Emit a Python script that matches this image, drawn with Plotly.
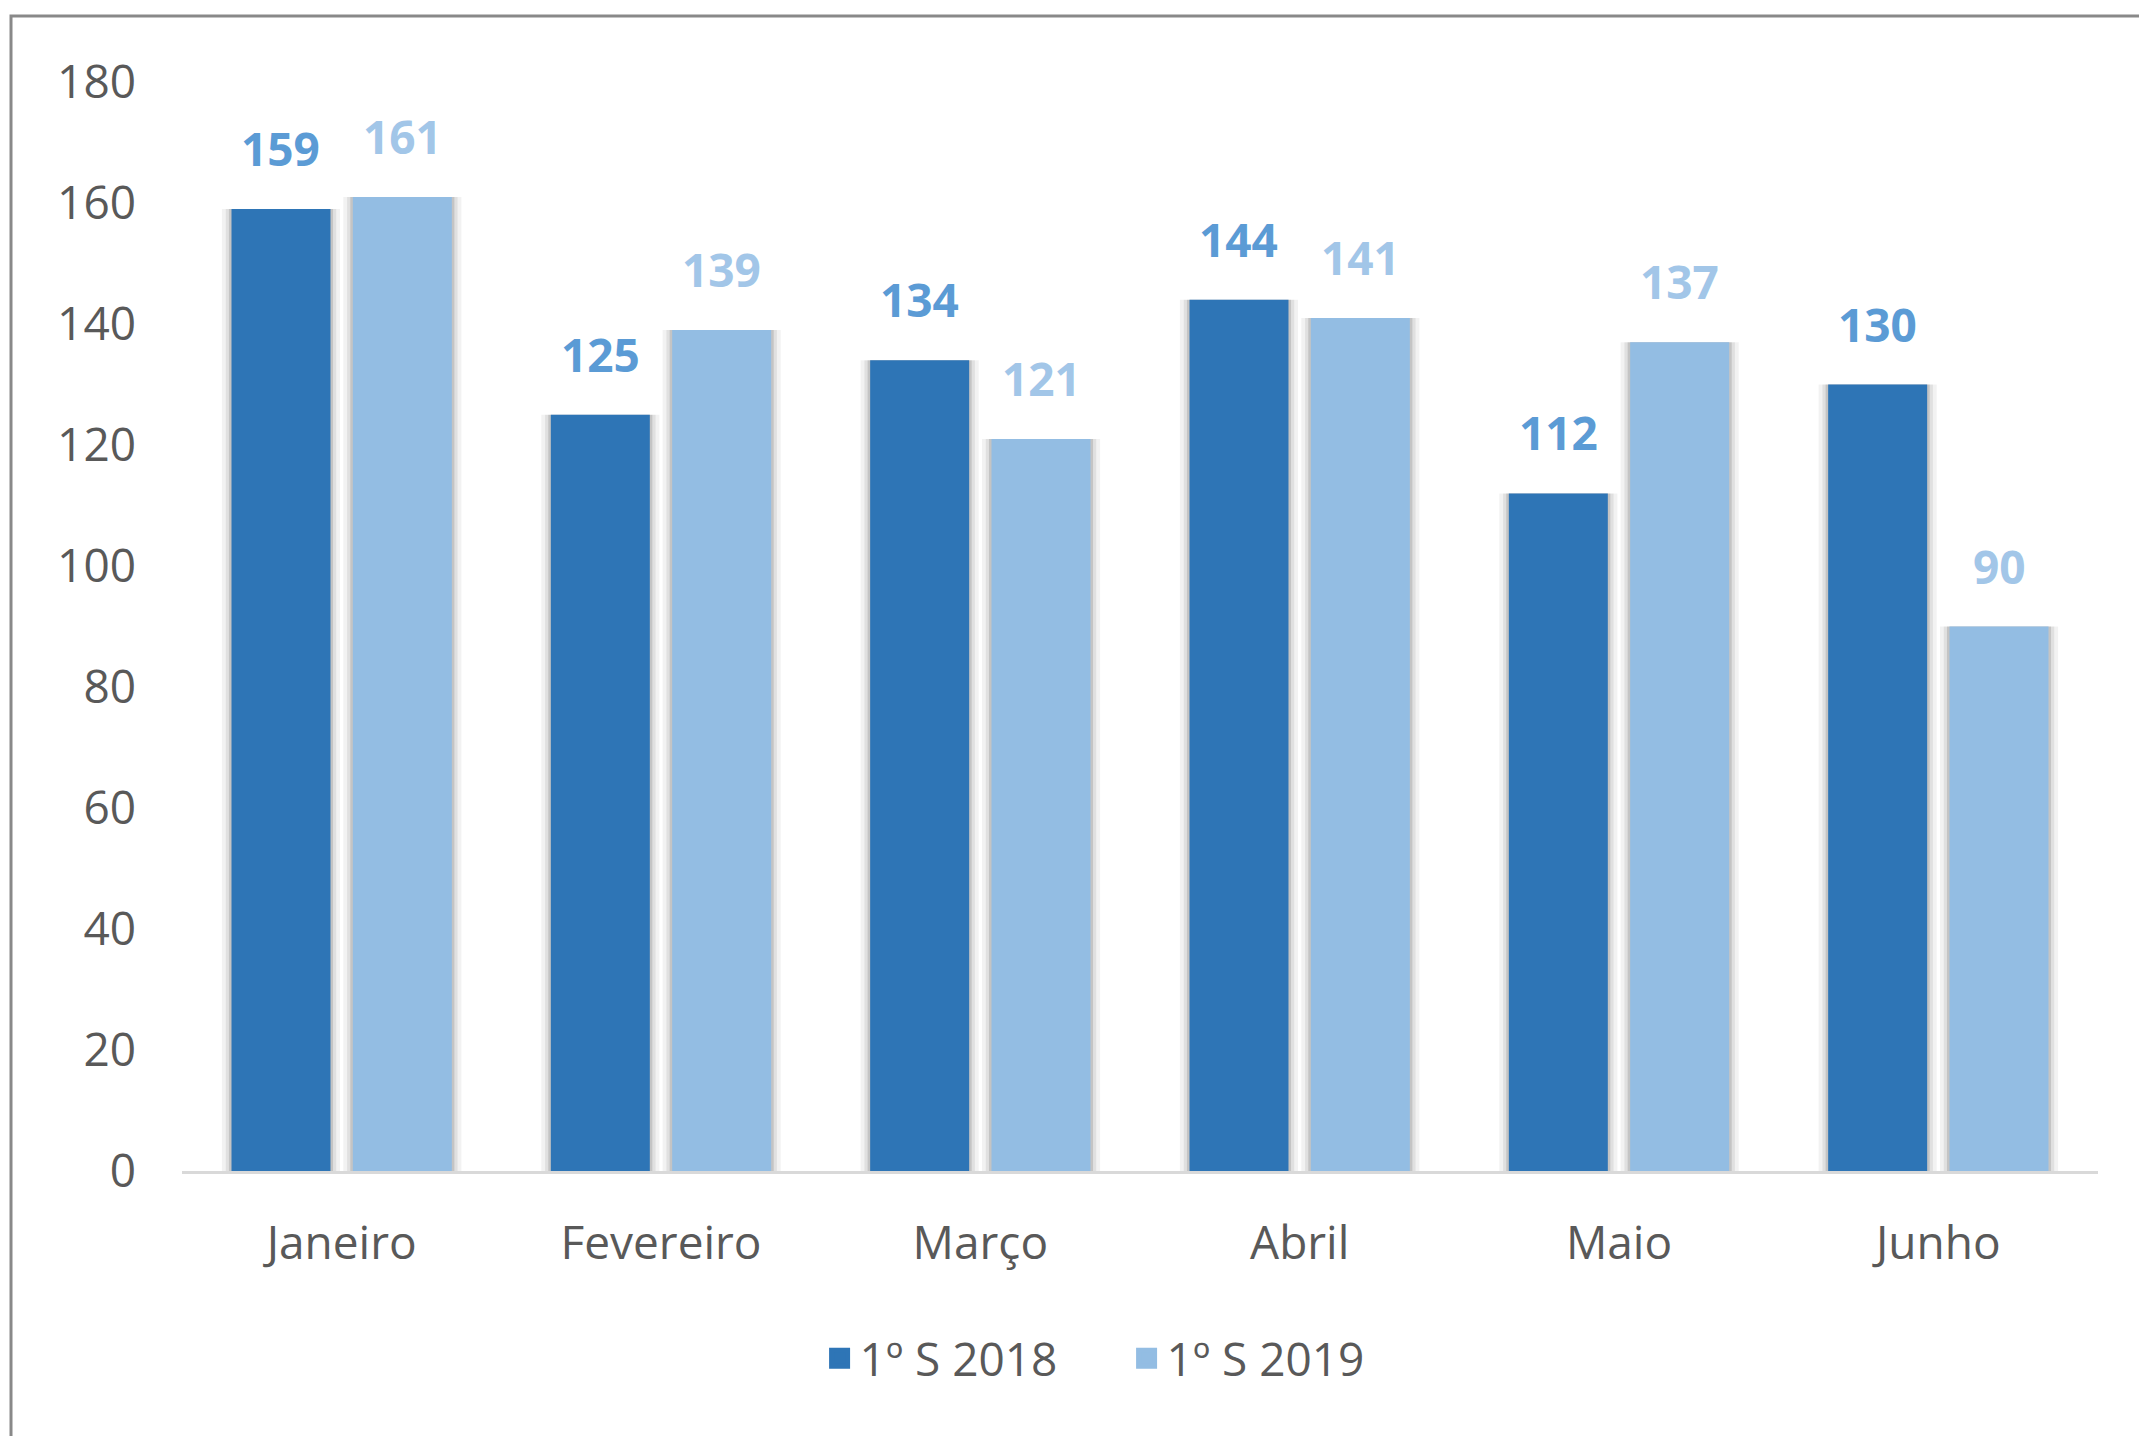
import plotly.graph_objects as go

# data
months = ["Janeiro", "Fevereiro", "Março", "Abril", "Maio", "Junho"]
s2018 = [159, 125, 134, 144, 112, 130]
s2019 = [161, 139, 121, 141, 137, 90]
series_names = ["1º S 2018", "1º S 2019"]
y_ticks = [0, 20, 40, 60, 80, 100, 120, 140, 160, 180]

# colors
DARK_BLUE = "#2E75B6"
LIGHT_BLUE = "#93BDE3"
DARK_LABEL = "#5B9BD5"
LIGHT_LABEL = "#A2C6E8"
TEXT_GREY = "#595959"
AXIS_GREY = "#D9D9D9"
BORDER_GREY = "#898989"
FONT = "Open Sans, Noto Sans, sans-serif"

# page body adds an 8px offset, so the figure is a bit smaller than the window
W, H = 2139, 1428
ML, MR, MT, MB = 174, 49, 74, 265

BAR_W = 0.31
OFFSETS = [-0.345, 0.035]

fig = go.Figure()

# soft shadows behind bars (Excel style outer shadow)
for vals, off in zip([s2018, s2019], OFFSETS):
    for pad, alpha in [(0.03, 0.05), (0.018, 0.07), (0.008, 0.12)]:
        fig.add_trace(go.Bar(
            x=months, y=vals, offset=off - pad, width=BAR_W + 2 * pad,
            marker=dict(color=f"rgba(0,0,0,{alpha})", line=dict(width=0)),
            showlegend=False, hoverinfo="skip",
        ))

for vals, off, name, col in zip([s2018, s2019], OFFSETS, series_names,
                                [DARK_BLUE, LIGHT_BLUE]):
    fig.add_trace(go.Bar(
        x=months, y=vals, name=name, offset=off, width=BAR_W,
        marker=dict(color=col, line=dict(width=0)), showlegend=False,
    ))
    # legend entry with a bigger square than the default bar icon
    fig.add_trace(go.Scatter(
        x=[None], y=[None], mode="markers", name=name,
        marker=dict(symbol="square", size=16, color=col, line=dict(color=col, width=5)),
    ))

# value labels
annotations = []
for vals, off, col in zip([s2018, s2019], OFFSETS, [DARK_LABEL, LIGHT_LABEL]):
    for i, v in enumerate(vals):
        annotations.append(dict(
            x=i + off + BAR_W / 2, y=v, xref="x", yref="y",
            text=f"<b>{v}</b>", showarrow=False, yanchor="middle", yshift=61,
            font=dict(family=FONT, size=46, color=col),
        ))

# outer frame (only top and left visible in the reference)
ph = H - MT - MB
pw = W - ML - MR
shapes = [dict(
    type="rect", xref="paper", yref="paper",
    x0=(3 - ML) / pw, x1=(W + 20 - ML) / pw,
    y0=-(MB + 20) / ph, y1=1 + (MT - 8) / ph,
    line=dict(color=BORDER_GREY, width=3), fillcolor="rgba(0,0,0,0)", layer="above",
)]

fig.update_layout(
    width=W, height=H,
    margin=dict(l=ML, r=MR, t=MT, b=MB),
    paper_bgcolor="white", plot_bgcolor="white",
    barmode="overlay",
    font=dict(family=FONT, size=46, color=TEXT_GREY),
    showlegend=True,
    legend=dict(orientation="h", x=0.493, xanchor="center", y=-0.172, yanchor="middle",
                font=dict(size=46, color=TEXT_GREY), itemsizing="trace",
                entrywidth=262, entrywidthmode="pixels", traceorder="normal"),
    annotations=annotations,
    shapes=shapes,
)
fig.update_xaxes(
    showline=True, linecolor=AXIS_GREY, linewidth=3, showgrid=False,
    ticks="", ticklabelstandoff=30, tickfont=dict(size=46, color=TEXT_GREY),
)
fig.update_yaxes(
    range=[0, 180], tickvals=y_ticks, showgrid=False, zeroline=False, showline=False,
    ticks="", ticklabelstandoff=45, tickfont=dict(size=46, color=TEXT_GREY),
)

fig.write_html("out.html")
